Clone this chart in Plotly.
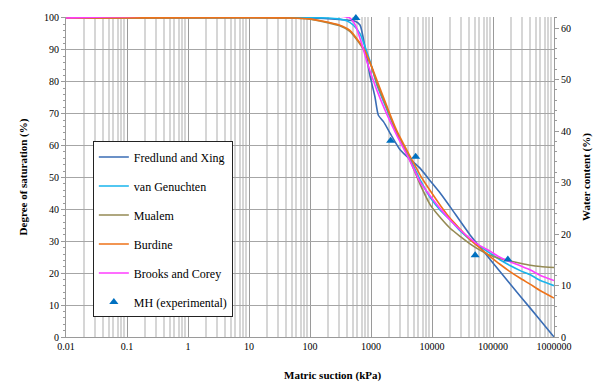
import plotly.graph_objects as go

# ---- data ----
suction_fx = [0.01, 100, 300, 550, 660, 800, 950, 1160, 1320, 1600, 2200, 3000, 4400, 6300, 9300,
              13500, 20000, 42000, 74000, 130000, 280000, 600000, 1000000]
sat_fx = [100, 100, 99.5, 99.0, 97.8, 90.7, 82.4, 75.3, 69.5, 67.5, 62.9, 58.7, 55.6, 53.0, 49.0,
          45.2, 40.7, 32.0, 26.3, 20.5, 12.8, 5.2, 0.0]

suction_vg = [0.01, 200, 300, 400, 510, 660, 800, 1000, 1250, 1800, 2600, 4400, 6500, 9300, 14000,
              20000, 30000, 42000, 60000, 89000, 130000, 190000, 280000, 410000, 600000, 1000000]
sat_vg = [100, 100, 99.7, 99.1, 97.8, 95.1, 91.0, 85.5, 79.0, 71.5, 64.3, 55.7, 49.0, 43.8, 39.5,
          36.6, 33.0, 30.5, 28.5, 26.3, 24.2, 22.4, 20.8, 19.5, 17.7, 16.1]

suction_mu = [0.01, 50, 100, 150, 300, 450, 650, 800, 1000, 1250, 1800, 2600, 4400, 6500, 9300, 14000,
              20000, 30000, 42000, 60000, 89000, 130000, 190000, 280000, 410000, 600000, 1000000]
sat_mu = [100, 100, 99.6, 99.0, 97.6, 95.8, 92.0, 89.3, 85.2, 79.5, 72.0, 64.3, 55.2, 47.5, 41.5, 37.2,
          34.0, 31.3, 29.2, 27.3, 25.6, 24.6, 23.8, 23.1, 22.5, 22.1, 21.8]

suction_bu = [0.01, 50, 100, 150, 300, 450, 650, 800, 1000, 1250, 1800, 2600, 4400, 6500, 9300, 14000,
              20000, 30000, 42000, 60000, 89000, 130000, 190000, 280000, 410000, 600000, 1000000]
sat_bu = [100, 100, 99.7, 99.1, 97.8, 96.1, 92.3, 89.6, 85.3, 80.5, 72.6, 65.0, 56.5, 50.5, 45.9, 41.0,
          37.1, 33.5, 30.5, 28.0, 25.3, 22.8, 20.5, 18.4, 16.5, 14.5, 12.2]

suction_bc = [0.01, 450, 550, 710, 850, 1000, 1250, 1800, 2600, 4400, 6500, 9300, 14000, 20000, 30000,
              42000, 60000, 89000, 130000, 190000, 280000, 410000, 600000, 1000000]
sat_bc = [100, 100, 97.8, 91.7, 86.5, 82.5, 77.3, 70.0, 63.5, 55.0, 48.3, 44.3, 40.0, 36.6, 33.3,
          30.9, 28.7, 26.9, 25.0, 23.6, 22.3, 21.0, 19.3, 17.7]

suction_exp = [565, 2100, 5400, 51000, 175000]
sat_exp = [100, 61.5, 56.5, 25.6, 24.3]

x_tick_vals = [0.01, 0.1, 1, 10, 100, 1000, 10000, 100000, 1000000]
x_tick_text = ["0.01", "0.1", "1", "10", "100", "1000", "10000", "100000", "1000000"]
minor_mult = [2, 3, 4, 5, 6, 7, 8, 9]
left_ticks = [0, 10, 20, 30, 40, 50, 60, 70, 80, 90, 100]
right_ticks = [0, 10, 20, 30, 40, 50, 60]

series = [
    ("Fredlund and Xing", suction_fx, sat_fx, "#3A6DB5"),
    ("van Genuchten", suction_vg, sat_vg, "#19B4EC"),
    ("Mualem", suction_mu, sat_mu, "#948A54"),
    ("Burdine", suction_bu, sat_bu, "#EE7219"),
    ("Brooks and Corey", suction_bc, sat_bc, "#FF3CFF"),
]

minor_vals = [m * d for d in x_tick_vals[:-1] for m in minor_mult]

SERIF = "Liberation Serif, Times New Roman, serif"

fig = go.Figure()
for i, (name, xs, ys, col) in enumerate(series):
    fig.add_trace(go.Scatter(x=xs, y=ys, mode="lines", name=name,
                             line=dict(color=col, width=1.6, shape="spline", smoothing=0.6),
                             legendgroup=str(i)))
fig.add_trace(go.Scatter(x=suction_exp, y=sat_exp, mode="markers", name="MH (experimental)",
                         marker=dict(symbol="triangle-up", size=8, color="#0070C0"),
                         cliponaxis=False, legendgroup="5"))

fig.update_layout(
    width=609, height=385,
    margin=dict(l=66, r=55, t=13, b=48),
    paper_bgcolor="white", plot_bgcolor="white",
    font=dict(family=SERIF, size=10, color="black"),
    showlegend=True,
    legend=dict(x=0.055, y=0.611, xanchor="left", yanchor="top",
                bgcolor="white", bordercolor="#222", borderwidth=1,
                font=dict(family=SERIF, size=12), tracegroupgap=10,
                traceorder="grouped"),
    xaxis=dict(type="log", range=[-2, 6], tickmode="array", tickvals=x_tick_vals,
               ticktext=x_tick_text, showgrid=True, gridcolor="#9a9a9a", gridwidth=1.2,
               minor=dict(tickmode="array", tickvals=minor_vals, showgrid=True,
                          gridcolor="#d6d6d6", gridwidth=1.5, ticks=""),
               showline=True, linecolor="#9a9a9a", linewidth=1, ticks="",
               zeroline=False, tickfont=dict(family=SERIF, size=10)),
    yaxis=dict(range=[0, 100.3], tickmode="array", tickvals=left_ticks,
               showgrid=True, gridcolor="#a6a6a6", gridwidth=1.3,
               showline=True, linecolor="#9a9a9a", linewidth=1,
               ticks="outside", ticklen=4, tickcolor="#9a9a9a",
               minor=dict(dtick=2, ticks="outside", ticklen=2, tickcolor="#9a9a9a", showgrid=False),
               zeroline=False, tickfont=dict(family=SERIF, size=10),
               title=dict(text="<b>Degree of saturation (%)</b>", font=dict(family=SERIF, size=11), standoff=14)),
    yaxis2=dict(overlaying="y", side="right", range=[0, 62.15], tickmode="array",
                tickvals=right_ticks, showgrid=False, showline=True, linecolor="#9a9a9a",
                ticks="outside", ticklen=4, tickcolor="#9a9a9a",
                minor=dict(dtick=2, ticks="outside", ticklen=2, tickcolor="#9a9a9a"),
                zeroline=False, tickfont=dict(family=SERIF, size=10),
                title=dict(text="<b>Water content (%)</b>", font=dict(family=SERIF, size=11), standoff=12)),
    annotations=[dict(text="<b>Matric suction (kPa)</b>", xref="paper", yref="paper",
                      x=0.547, y=-0.12, xanchor="center", yanchor="middle", showarrow=False,
                      font=dict(family=SERIF, size=11))],
)
fig.add_trace(go.Scatter(x=[None], y=[None], yaxis="y2", showlegend=False, hoverinfo="skip"))

fig.write_html("out.html", config={"displayModeBar": False},
               post_script="document.body.style.margin='0';")
